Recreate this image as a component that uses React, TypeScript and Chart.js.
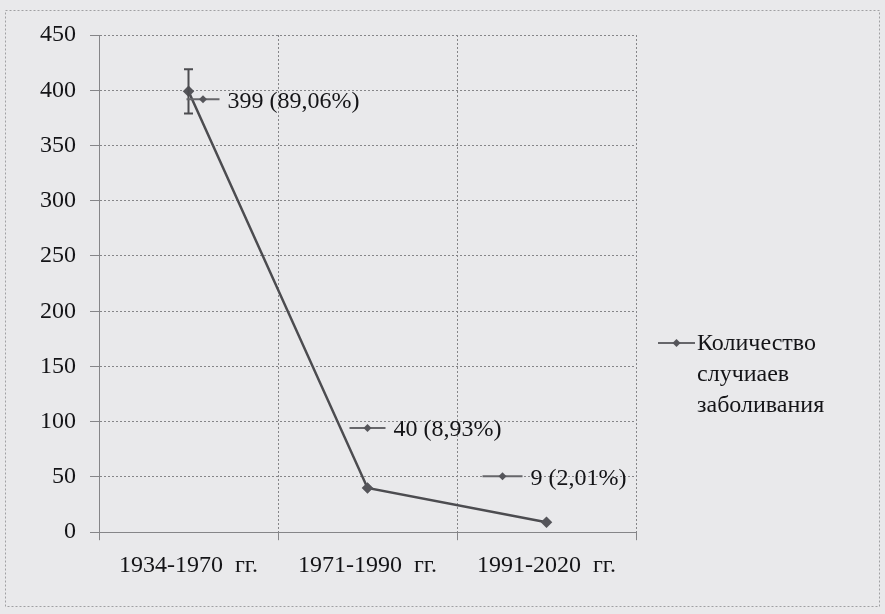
import React, { useEffect, useRef } from "react";
import { Chart, registerables } from "chart.js";

Chart.register(...registerables);

const categories = ["1934-1970  гг.", "1971-1990  гг.", "1991-2020  гг."];
const cases = [399, 40, 9];
const pointLabels = ["399 (89,06%)", "40 (8,93%)", "9 (2,01%)"];
const errLow = [379, null, null];
const errHigh = [419, null, null];
const yTicks = [0, 50, 100, 150, 200, 250, 300, 350, 400, 450];
const legendLines = ["Количество", "случиаев", "заболивания"];

const FONT = "'Liberation Serif', 'DejaVu Serif', serif";
const FS = 24;
const LINE = "#4c4c50";
const GRID = "#858588";
const TEXT = "#141417";

// label offsets relative to the data point (styling only)
const labelOffsets = [
  { dx: -2, dy: 8, w: 33 },
  { dx: -18, dy: -60, w: 36 },
  { dx: -64, dy: -46, w: 40 },
];

function drawKey(ctx: CanvasRenderingContext2D, x: number, y: number, w: number) {
  ctx.save();
  ctx.strokeStyle = "#66666a";
  ctx.lineWidth = 2;
  ctx.beginPath();
  ctx.moveTo(x, y);
  ctx.lineTo(x + w, y);
  ctx.stroke();
  ctx.fillStyle = "#55555a";
  const cx = x + w / 2;
  const r = 4;
  ctx.beginPath();
  ctx.moveTo(cx, y - r);
  ctx.lineTo(cx + r, y);
  ctx.lineTo(cx, y + r);
  ctx.lineTo(cx - r, y);
  ctx.closePath();
  ctx.fill();
  ctx.restore();
}

const decorPlugin = {
  id: "decor",
  beforeDraw(chart: any) {
    const { ctx, width, height } = chart;
    ctx.save();
    ctx.fillStyle = "#e9e9eb";
    ctx.fillRect(0, 0, width, height);
    ctx.strokeStyle = "#a0a0a3";
    ctx.setLineDash([2, 2]);
    ctx.lineWidth = 1;
    ctx.strokeRect(5.5, 10.5, width - 11, height - 18);
    ctx.restore();
  },
  afterDatasetsDraw(chart: any) {
    const { ctx } = chart;
    const meta = chart.getDatasetMeta(0);
    const yScale = chart.scales.y;
    // error bars
    ctx.save();
    ctx.strokeStyle = LINE;
    ctx.lineWidth = 2;
    meta.data.forEach((pt: any, i: number) => {
      const lo = errLow[i];
      const hi = errHigh[i];
      if (lo == null || hi == null) return;
      const y1 = yScale.getPixelForValue(lo);
      const y2 = yScale.getPixelForValue(hi);
      ctx.beginPath();
      ctx.moveTo(pt.x, y1);
      ctx.lineTo(pt.x, y2);
      ctx.moveTo(pt.x - 4.5, y1);
      ctx.lineTo(pt.x + 4.5, y1);
      ctx.moveTo(pt.x - 4.5, y2);
      ctx.lineTo(pt.x + 4.5, y2);
      ctx.stroke();
    });
    ctx.restore();
    // data labels with legend key
    ctx.save();
    ctx.font = `${FS}px ${FONT}`;
    ctx.fillStyle = TEXT;
    ctx.textBaseline = "middle";
    ctx.textAlign = "left";
    meta.data.forEach((pt: any, i: number) => {
      const o = labelOffsets[i];
      const x = pt.x + o.dx;
      const y = pt.y + o.dy;
      drawKey(ctx, x, y, o.w);
      ctx.fillText(pointLabels[i], x + o.w + 8, y + 2);
    });
    ctx.restore();
    // legend
    const area = chart.chartArea;
    const lx = area.right + 22;
    const ly = 343;
    ctx.save();
    drawKey(ctx, lx, ly, 37);
    ctx.font = `${FS}px ${FONT}`;
    ctx.fillStyle = TEXT;
    ctx.textBaseline = "middle";
    legendLines.forEach((t, i) => {
      ctx.fillText(t, lx + 39, ly + 1 + i * 31);
    });
    ctx.restore();
  },
};

export default function App() {
  const ref = useRef<HTMLCanvasElement | null>(null);
  useEffect(() => {
    document.body.style.margin = "0";
    const chart = new Chart(ref.current as HTMLCanvasElement, {
      type: "line",
      data: {
        labels: categories,
        datasets: [
          {
            label: legendLines.join(" "),
            data: cases,
            borderColor: LINE,
            borderWidth: 2.5,
            pointStyle: "rectRot",
            pointRadius: 4,
            pointBackgroundColor: "#55555a",
            pointBorderColor: "#55555a",
            tension: 0,
          },
        ],
      },
      options: {
        animation: false,
        responsive: false,
        layout: { padding: { top: 35, right: 249, bottom: 23, left: 26 } },
        plugins: { legend: { display: false }, tooltip: { enabled: false } },
        scales: {
          x: {
            offset: true,
            grid: {
              offset: true,
              color: GRID,
              tickLength: 8,
              lineWidth: 1,
            } as any,
            border: { display: true, color: GRID, dash: [2, 2] } as any,
            ticks: { font: { family: FONT, size: FS }, color: TEXT, padding: 11 },
          },
          y: {
            min: 0,
            max: 450,
            afterBuildTicks: (s: any) => {
              s.ticks = yTicks.map((v) => ({ value: v }));
            },
            grid: { color: GRID, tickLength: 9, lineWidth: 1 } as any,
            border: { display: true, color: GRID, dash: [2, 2] } as any,
            ticks: { font: { family: FONT, size: FS }, color: TEXT, padding: 14 },
          },
        },
      },
      plugins: [decorPlugin],
    } as any);
    return () => chart.destroy();
  }, []);
  return (
    <div style={{ width: 885, height: 614, background: "#e9e9eb" }}>
      <canvas ref={ref} width={885} height={614} style={{ display: "block" }} />
    </div>
  );
}
